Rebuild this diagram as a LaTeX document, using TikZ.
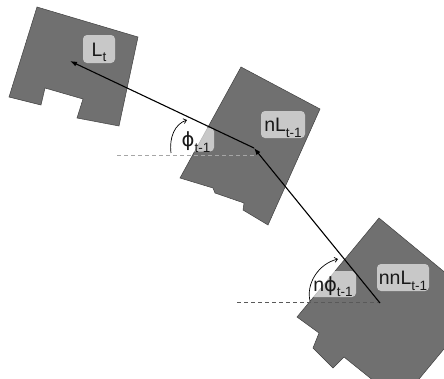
\documentclass[tikz,border=0pt]{standalone}
\usepackage{fontspec}
\setmainfont{Liberation Sans}
\newfontfamily\phifont{DejaVu Sans}
\usetikzlibrary{arrows.meta}

\newcommand{\lowtxt}[1]{\raisebox{-5.5pt}{\fontsize{13.5}{14}\selectfont #1}}

\begin{document}
\begin{tikzpicture}[x=1pt, y=-1pt,
  body/.style={draw=black!75, line width=0.5pt, fill=black!56},
  lbl/.style={fill=white, fill opacity=0.62, text opacity=1, rounded corners=4pt, inner sep=0pt, text height=14pt, text depth=0pt, font=\fontsize{19.5}{22}\selectfont, text=black!90},
  arr/.style={-{Latex[length=7pt,width=5pt]}, line width=1.1pt},
  ang/.style={-{Straight Barb[length=3pt,width=5pt]}, line width=0.7pt},
  ref/.style={dashed, dash pattern=on 4pt off 3pt, line width=0.6pt}
]
\useasboundingbox (0,0) rectangle (444,378);
\clip (0,0) rectangle (444,378);

\draw[body] (37,7) -- (138,37) -- (119,126) -- (77,118) -- (83,99) -- (45,88) -- (41,105) -- (9,97) -- cycle;
\draw[body] (241,67) -- (320,109) -- (268,225) -- (243,210) -- (244,203) -- (215,193) -- (213,188) -- (180,178) -- cycle;
\draw[body] (379,218) -- (482,303) -- (400,402) -- (344,357) -- (333,368) -- (313,348) -- (319,333) -- (297,317) -- cycle;

\coordinate (ct) at (70,61);
\coordinate (cn) at (254,148);
\coordinate (cnn) at (380,303);
\coordinate (h1) at (117,155);
\coordinate (h1e) at (254,155);
\coordinate (h2) at (237,302);
\coordinate (a1) at (171,153);
\coordinate (a1e) at (187,120);
\coordinate (a2) at (310,301);
\coordinate (a2e) at (338,259);

\draw[ref, draw=black!35] (h1) -- (h1e);
\draw[ref, draw=black!65] (h2) -- (h2 -| cnn);

\node[lbl, minimum width=32pt, minimum height=28pt] (lt) at (99,49) {L\lowtxt{t}};
\node[lbl, minimum width=44pt, minimum height=27pt] (nl) at (283,124.5) {nL\lowtxt{t-1}};
\node[lbl, minimum width=36pt, minimum height=24pt] (phi) at (196,139.5) {{\phifont ϕ}\lowtxt{t-1}};
\node[lbl, minimum width=46pt, minimum height=26pt] (nphi) at (333,284) {n{\phifont ϕ}\lowtxt{t-1}};
\node[lbl, minimum width=52pt, minimum height=27pt] (nnl) at (403,277.5) {nnL\lowtxt{t-1}};

\draw[ang] (a1) .. controls (169,137) and (175,124) .. (a1e);
\draw[ang] (a2) .. controls (306,284) and (318,264) .. (a2e);

\draw[arr] (cn) -- (ct);
\draw[arr] (cnn) -- (cn);
\end{tikzpicture}
\end{document}
